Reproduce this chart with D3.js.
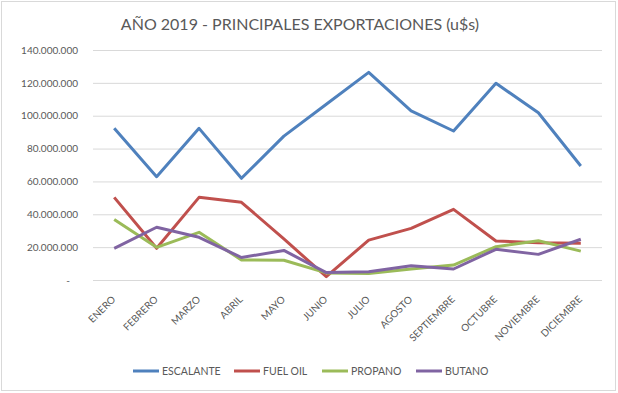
<!DOCTYPE html>
<html lang="es">
<head>
<meta charset="UTF-8">
<title>Año 2019 - Principales exportaciones</title>
<script src="https://d3js.org/d3.v7.min.js"></script>
<style>
    body { margin: 0; background: #fff; }
    text { font-family: Lato, "Open Sans", sans-serif; fill: #595959; }
    .line { fill: none; stroke-width: 3px; stroke-linejoin: round; }
</style>
</head>
<body>
<script>
    // datos
    var meses = ["ENERO", "FEBRERO", "MARZO", "ABRIL", "MAYO", "JUNIO", "JULIO",
        "AGOSTO", "SEPTIEMBRE", "OCTUBRE", "NOVIEMBRE", "DICIEMBRE"];
    var escalante = [92300000, 62900000, 92300000, 61900000, 87600000, 107000000, 126400000,
        102900000, 90700000, 119700000, 101800000, 69400000];
    var fuelOil = [50300000, 19300000, 50300000, 47300000, 25000000, 2000000, 24300000,
        31400000, 43000000, 23700000, 22700000, 22300000];
    var propano = [36900000, 19900000, 29000000, 12200000, 12000000, 4300000, 4000000,
        6700000, 9100000, 20300000, 23900000, 17600000];
    var butano = [19300000, 32100000, 26000000, 13700000, 18000000, 4500000, 5000000,
        8700000, 6700000, 18700000, 15600000, 24800000];
    var yTicks = [0, 20000000, 40000000, 60000000, 80000000, 100000000, 120000000, 140000000];

    var series = [
        { name: "ESCALANTE", values: escalante, color: "#4F81BD" },
        { name: "FUEL OIL", values: fuelOil, color: "#C0504D" },
        { name: "PROPANO", values: propano, color: "#9BBB59" },
        { name: "BUTANO", values: butano, color: "#8064A2" }
    ];

    var W = 618, H = 393;
    var margin = { top: 50, right: 16, bottom: 113, left: 93 },
        width = W - margin.left - margin.right,
        height = H - margin.top - margin.bottom;

    var svg = d3.select("body").append("svg")
        .attr("width", W)
        .attr("height", H);

    // borde del area del grafico
    svg.append("rect")
        .attr("x", 1.5).attr("y", 1.5)
        .attr("width", W - 4).attr("height", H - 4)
        .attr("fill", "#fff")
        .attr("stroke", "#d9d9d9");

    svg.append("text")
        .attr("x", 300)
        .attr("y", 30)
        .attr("text-anchor", "middle")
        .style("font-size", "16px")
        .text("AÑO 2019 - PRINCIPALES EXPORTACIONES (u$s)");

    var g = svg.append("g")
        .attr("transform", "translate(" + margin.left + "," + margin.top + ")");

    var x = d3.scaleBand().domain(meses).range([0, width]);
    var y = d3.scaleLinear().domain([0, 140000000]).range([height, 0]);

    var fmt = function (d) {
        return d === 0 ? "-" : d3.format(",")(d).replace(/,/g, ".");
    };

    // grilla y eje Y
    var yAxis = g.append("g")
        .call(d3.axisLeft(y).tickValues(yTicks).tickSize(-width).tickPadding(15).tickFormat(fmt));
    yAxis.select(".domain").remove();
    yAxis.selectAll("line").attr("stroke", "#d9d9d9");
    yAxis.selectAll("text").style("font-size", "10px").attr("fill", "#595959");
    yAxis.selectAll(".tick").filter(function (d) { return d === 0; })
        .select("text").attr("dx", -8);

    // eje X
    var xAxis = g.append("g")
        .attr("transform", "translate(0," + height + ")")
        .call(d3.axisBottom(x).tickSize(0).tickPadding(0));
    xAxis.select(".domain").remove();
    xAxis.selectAll("text")
        .style("font-size", "10px")
        .attr("fill", "#595959")
        .attr("dy", 0)
        .attr("transform", "translate(2,20) rotate(-45)")
        .style("text-anchor", "end");

    var line = d3.line()
        .x(function (d, i) { return x(meses[i]) + x.bandwidth() / 2; })
        .y(function (d) { return y(d); });

    series.forEach(function (s) {
        g.append("path")
            .datum(s.values)
            .attr("class", "line")
            .style("stroke", s.color)
            .attr("d", line);
    });

    // leyenda
    var legendX = [133, 234, 322, 416];
    var legend = svg.append("g").attr("transform", "translate(0,371)");
    series.forEach(function (s, i) {
        legend.append("line")
            .attr("x1", legendX[i]).attr("x2", legendX[i] + 26)
            .attr("y1", 0).attr("y2", 0)
            .attr("stroke", s.color)
            .attr("stroke-width", 3);
        legend.append("text")
            .attr("x", legendX[i] + 29)
            .attr("y", 4)
            .style("font-size", "10.5px")
            .text(s.name);
    });
</script>
</body>
</html>
